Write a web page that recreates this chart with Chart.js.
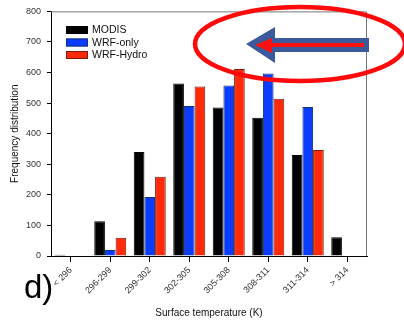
<!DOCTYPE html>
<html>
<head>
<meta charset="utf-8">
<script src="https://cdn.jsdelivr.net/npm/chart.js@4.4.1/dist/chart.umd.min.js"></script>
<style>
  html, body { margin: 0; padding: 0; background: #fff; }
  #wrap { width: 404px; height: 322px; position: relative; }
</style>
</head>
<body>
<div id="wrap"><canvas id="chart"></canvas></div>
<script>
// Data (frequency per temperature bin)
const categories = ['< 296', '296-299', '299-302', '302-305', '305-308', '308-311', '311-314', '> 314'];
const modisVals  = [4, 114, 340, 564, 486, 452, 330, 61];
const wrfOnlyVals = [0, 20, 193, 491, 558, 597, 487, 2];
const wrfHydroVals = [0, 60, 259, 554, 612, 514, 347, 2];
const yTicks = [0, 100, 200, 300, 400, 500, 600, 700, 800];

const FONT = '"Liberation Sans", Arial, sans-serif';

// legend inside the plot, top-left
const legendItems = [
    { label: 'MODIS', fill: '#000000', border: '#000000' },
    { label: 'WRF-only', fill: '#0a3cff', border: '#14307a' },
    { label: 'WRF-Hydro', fill: '#ff2a0a', border: '#7a1a10' }
];

const extrasPlugin = {
    id: 'extras',
    afterDraw(chart) {
        const c = chart.ctx;
        const a = chart.chartArea;
        c.save();

        // frame top + right
        c.strokeStyle = '#777';
        c.lineWidth = 1;
        c.beginPath();
        c.moveTo(a.left, a.top + 0.5);
        c.lineTo(a.right - 0.5, a.top + 0.5);
        c.lineTo(a.right - 0.5, a.bottom);
        c.stroke();

        // legend
        c.font = '10.5px ' + FONT;
        c.textBaseline = 'middle';
        legendItems.forEach((it, i) => {
            const y = 26 + i * 12.5;
            c.fillStyle = it.fill;
            c.fillRect(66, y, 22, 8);
            c.strokeStyle = it.border;
            c.strokeRect(66.5, y + 0.5, 21, 7);
            c.fillStyle = '#111';
            c.fillText(it.label, 92, y + 4.5);
        });

        // blue arrow with red inner arrow
        c.fillStyle = '#3b5a9c';
        c.beginPath();
        c.moveTo(246, 44);
        c.lineTo(275, 27);
        c.lineTo(275, 38);
        c.lineTo(369, 38);
        c.lineTo(369, 52);
        c.lineTo(275, 52);
        c.lineTo(275, 63);
        c.closePath();
        c.fill();
        c.fillStyle = '#ff1010';
        c.beginPath();
        c.moveTo(255, 45);
        c.lineTo(272, 38);
        c.lineTo(272, 43);
        c.lineTo(364, 43);
        c.lineTo(364, 47);
        c.lineTo(272, 47);
        c.lineTo(272, 53);
        c.closePath();
        c.fill();

        // red ellipse
        c.strokeStyle = '#ff0a0a';
        c.lineWidth = 4.5;
        c.beginPath();
        c.ellipse(300, 44, 105, 37, 0, 0, Math.PI * 2);
        c.stroke();

        // panel letter
        c.fillStyle = '#000';
        c.font = '33px ' + FONT;
        c.textBaseline = 'alphabetic';
        c.fillText('d)', 24, 298);

        c.restore();
    }
};

const ctx = document.getElementById('chart');
new Chart(ctx, {
    type: 'bar',
    data: {
        labels: categories,
        datasets: [
            { label: 'MODIS', data: modisVals, backgroundColor: '#000000', borderColor: '#000000', borderWidth: 1 },
            { label: 'WRF-only', data: wrfOnlyVals, backgroundColor: '#0a3cff', borderColor: '#14307a', borderWidth: 1 },
            { label: 'WRF-Hydro', data: wrfHydroVals, backgroundColor: '#ff2a0a', borderColor: '#7a1a10', borderWidth: 1 }
        ]
    },
    options: {
        responsive: true,
        maintainAspectRatio: false,
        animation: false,
        categoryPercentage: 0.81,
        barPercentage: 1.0,
        layout: { padding: { top: 10, right: 37, left: 0, bottom: 0 } },
        plugins: {
            legend: { display: false },
            tooltip: { enabled: false }
        },
        scales: {
            x: {
                offset: true,
                afterFit(s) { s.height = 66; },
                border: { color: '#000', width: 1 },
                grid: { display: true, drawOnChartArea: false, offset: false, tickLength: 6, color: '#000' },
                ticks: { font: { size: 9, family: FONT }, color: '#333', minRotation: 45, maxRotation: 45, padding: 3, autoSkip: false },
                title: { display: true, text: 'Surface temperature (K)', font: { size: 10, family: FONT }, color: '#111', padding: { top: 0, bottom: 3 } }
            },
            y: {
                min: 0,
                max: 800,
                afterFit(s) { s.width = 51; },
                afterBuildTicks(s) { s.ticks = yTicks.map(v => ({ value: v })); },
                border: { color: '#000', width: 1 },
                grid: { display: true, drawOnChartArea: false, tickLength: 4, color: '#000' },
                ticks: { font: { size: 9, family: FONT }, color: '#333', padding: 6 },
                title: { display: true, text: 'Frequency distribution', font: { size: 10, family: FONT }, color: '#111', padding: { top: 9, bottom: 0 } }
            }
        }
    },
    plugins: [extrasPlugin]
});
</script>
</body>
</html>
